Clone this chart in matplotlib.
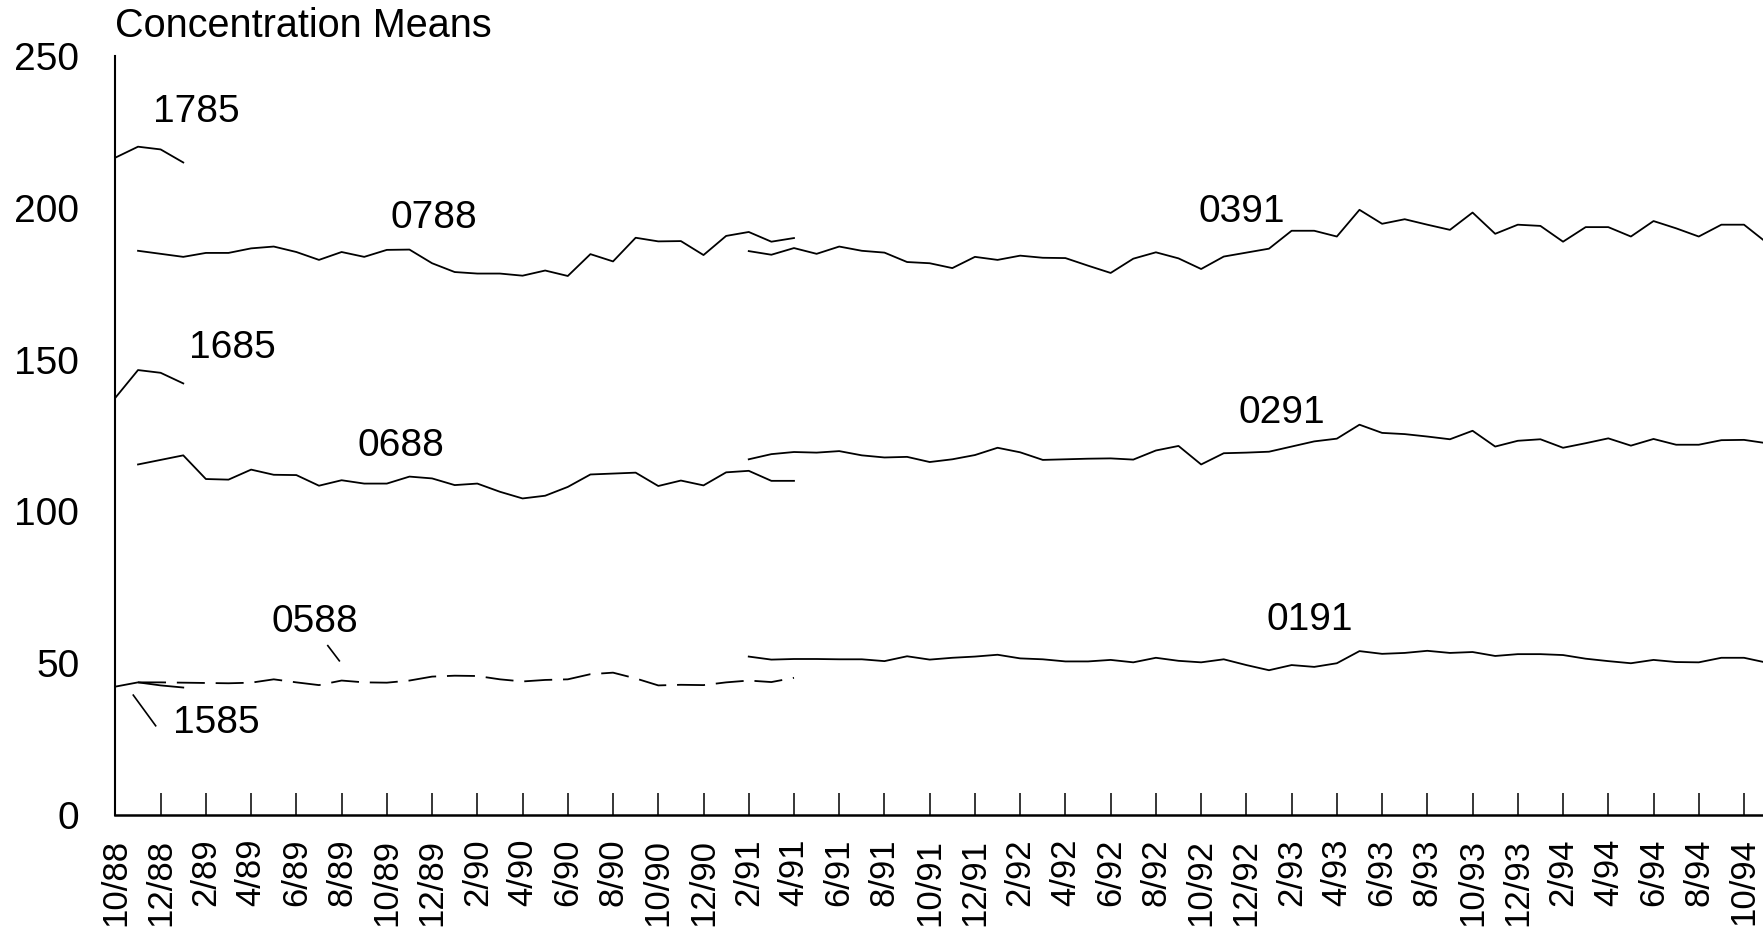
import matplotlib
matplotlib.use("Agg")
import matplotlib.pyplot as plt
import pandas as pd

plt.rcParams["font.family"] = ["Liberation Sans", "DejaVu Sans"]

# monthly axis, 10/88 .. 11/94 (last month runs off the right edge)
months = pd.period_range("1988-10", "1994-11", freq="M")
tick_months = months[::2]
tick_labels = [f"{p.month}/{p.year % 100:02d}" for p in tick_months]

# concentration means
s1785 = [216.6, 220.2, 219.3, 215.0]
s1685 = [137.5, 146.6, 145.7, 142.2]
s1585 = [42.3, 43.7, 42.7, 42.0]

s0788 = [185.9, 184.9, 183.9, 185.2, 185.2, 186.7, 187.3, 185.5, 182.9, 185.5,
         183.9, 186.2, 186.3, 181.8, 178.9, 178.4, 178.4, 177.7, 179.4, 177.6,
         184.8, 182.4, 190.2, 189.0, 189.1, 184.5, 190.8, 192.1, 188.9, 190.1]
s0688 = [115.5, 117.0, 118.5, 110.7, 110.5, 113.8, 112.1, 112.0, 108.5, 110.3,
         109.2, 109.2, 111.5, 110.9, 108.7, 109.2, 106.5, 104.3, 105.2, 108.1,
         112.2, 112.5, 112.8, 108.4, 110.2, 108.6, 112.9, 113.4, 110.1, 110.1]
s0588 = [43.7, 43.7, 43.6, 43.5, 43.4, 43.6, 44.7, 43.7, 42.8, 44.3,
         43.7, 43.6, 44.3, 45.6, 45.9, 45.8, 44.7, 44.0, 44.5, 44.7,
         46.4, 46.9, 45.0, 42.7, 42.9, 42.8, 43.7, 44.3, 43.8, 45.2]

s0391 = [185.8, 184.6, 186.8, 184.9, 187.3, 185.9, 185.3, 182.2, 181.8, 180.2,
         183.9, 182.9, 184.3, 183.6, 183.5, 181.0, 178.6, 183.3, 185.4, 183.4,
         179.9, 184.0, 185.3, 186.6, 192.5, 192.5, 190.6, 199.4, 194.8, 196.3,
         194.5, 192.8, 198.5, 191.5, 194.5, 194.1, 188.9, 193.7, 193.7, 190.6,
         195.7, 193.3, 190.6, 194.5, 194.5, 188.6]
s0291 = [117.2, 118.9, 119.6, 119.4, 119.9, 118.5, 117.8, 118.0, 116.3, 117.2,
         118.6, 121.0, 119.5, 117.0, 117.2, 117.4, 117.5, 117.1, 120.1, 121.6,
         115.5, 119.2, 119.4, 119.7, 121.4, 123.1, 124.0, 128.6, 125.9, 125.5,
         124.7, 123.8, 126.6, 121.4, 123.3, 123.8, 121.0, 122.5, 124.1, 121.7,
         123.9, 122.0, 122.0, 123.5, 123.6, 122.5]
s0191 = [52.2, 51.2, 51.4, 51.4, 51.3, 51.3, 50.7, 52.3, 51.2, 51.8,
         52.2, 52.8, 51.6, 51.3, 50.6, 50.6, 51.1, 50.3, 51.8, 50.8,
         50.3, 51.3, 49.4, 47.7, 49.4, 48.8, 50.0, 54.0, 53.1, 53.4,
         54.1, 53.4, 53.7, 52.4, 53.0, 53.0, 52.7, 51.5, 50.7, 50.0,
         51.1, 50.4, 50.3, 51.8, 51.8, 50.2]

series = [
    ("1785", "1988-10", s1785), ("1685", "1988-10", s1685), ("1585", "1988-10", s1585),
    ("0788", "1988-11", s0788), ("0688", "1988-11", s0688), ("0588", "1988-11", s0588),
    ("0391", "1991-02", s0391), ("0291", "1991-02", s0291), ("0191", "1991-02", s0191),
]

# label placement (month offset, value at text baseline)
label_pos = {
    "1785": (1.67, 228.3), "0788": (12.14, 193.4), "1685": (3.25, 150.6),
    "0688": (10.72, 118.3), "0391": (47.9, 195.4), "0291": (49.67, 129.2),
    "0191": (50.91, 61.0), "0588": (6.92, 60.3), "1585": (2.53, 27.0),
}
leaders = [((9.39, 9.9), (55.8, 50.8)), ((0.79, 1.78), (39.5, 29.4))]

fig = plt.figure(figsize=(17.63, 9.31), dpi=100)
ax = fig.add_axes([0.06546, 0.1246, 0.93454, 0.81498])

for name, start, vals in series:
    x0 = (pd.Period(start, freq="M") - months[0]).n
    xs = list(range(x0, x0 + len(vals)))
    if name == "0588":
        ax.plot(xs, vals, color="black", lw=1.3, dashes=[15.5, 6])
    else:
        ax.plot(xs, vals, color="black", lw=1.3)
    lx, ly = label_pos[name]
    ax.text(lx, ly, name, fontsize=28, ha="left", va="baseline")

for lxs, lys in leaders:
    ax.plot(lxs, lys, color="black", lw=1.2)

ax.set_xlim(0, 72.84)
ax.set_ylim(0, 250)
ax.spines["top"].set_visible(False)
ax.spines["right"].set_visible(False)
ax.spines["left"].set_linewidth(1.5)
ax.spines["bottom"].set_linewidth(1.8)

ax.set_xticks(range(0, 73, 2))
ax.set_xticklabels(tick_labels, rotation=90, fontsize=25, va="top")
ax.tick_params(axis="x", direction="in", length=16, width=1.1, pad=17)
ax.set_yticks([0, 50, 100, 150, 200, 250])
ax.tick_params(axis="y", length=0, pad=26, labelsize=28)

fig.text(0.0652, 0.9603, "Concentration Means", fontsize=28.5, ha="left", va="baseline")

fig.savefig("out.png", dpi=100)
